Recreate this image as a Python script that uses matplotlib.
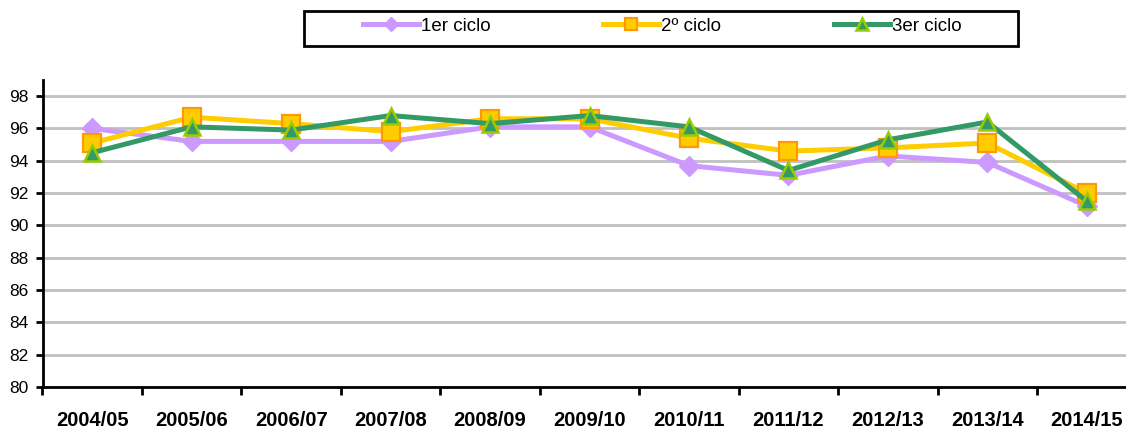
import numpy as np
import matplotlib.pyplot as plt
from matplotlib.patches import Rectangle

plt.rcParams["font.family"] = ["Liberation Sans", "DejaVu Sans"]

cursos = ["2004/05", "2005/06", "2006/07", "2007/08", "2008/09", "2009/10",
          "2010/11", "2011/12", "2012/13", "2013/14", "2014/15"]

ciclo_1 = [96.0, 95.2, 95.2, 95.2, 96.1, 96.1, 93.7, 93.1, 94.3, 93.9, 91.2]
ciclo_2 = [95.1, 96.7, 96.3, 95.8, 96.6, 96.6, 95.4, 94.6, 94.8, 95.1, 92.0]
ciclo_3 = [94.5, 96.1, 95.9, 96.8, 96.3, 96.8, 96.1, 93.4, 95.3, 96.4, 91.5]

y_ticks = [80, 82, 84, 86, 88, 90, 92, 94, 96, 98]

fig = plt.figure(figsize=(11.26, 4.29), dpi=100)
# plot area runs slightly past the right edge, like the original
ax = fig.add_axes([42.5 / 1126, 42 / 429, 1094 / 1126, 307 / 429])

x = np.arange(len(cursos))

ax.plot(x, ciclo_1, color="#CC99FF", linewidth=3.6, marker="D", markersize=10,
        markerfacecolor="#CC99FF", markeredgecolor="#CC99FF", label="1er ciclo", zorder=3)
ax.plot(x, ciclo_2, color="#FFCC00", linewidth=3.6, marker="s", markersize=12.5,
        markerfacecolor="#FFCC00", markeredgecolor="#FF9900", markeredgewidth=1.6,
        label="2º ciclo", zorder=4)
ax.plot(x, ciclo_3, color="#339966", linewidth=3.6, marker="^", markersize=11.5,
        markerfacecolor="#339966", markeredgecolor="#99CC00", markeredgewidth=1.8,
        label="3er ciclo", zorder=5)

ax.set_xlim(-0.5, len(cursos) - 0.5)
ax.set_ylim(80, 99)
ax.set_yticks(y_ticks)
ax.set_yticklabels([str(v) for v in y_ticks], fontsize=12.5)

# ticks between categories, labels at centres
ax.set_xticks(np.arange(-0.5, len(cursos), 1.0))
ax.set_xticklabels([])
ax.set_xticks(x, minor=True)
ax.set_xticklabels(cursos, minor=True, fontsize=14.5, fontweight="bold")
ax.tick_params(axis="x", which="major", length=6, width=2, direction="out")
ax.tick_params(axis="x", which="minor", length=0, pad=17)
ax.tick_params(axis="y", length=5, width=2, direction="out", pad=5)

ax.grid(True, axis="y", color="#C0C0C0", linewidth=2)
ax.set_axisbelow(True)
for side in ["top", "right"]:
    ax.spines[side].set_visible(False)
for side in ["left", "bottom"]:
    ax.spines[side].set_linewidth(2)
ax.spines["bottom"].set_zorder(6)

# legend box
fig.patches.append(Rectangle((304 / 1126, 1 - 46 / 429), 714 / 1126, 35 / 429,
                             transform=fig.transFigure, fill=False,
                             edgecolor="black", linewidth=2))
fig.legend(loc="center", bbox_to_anchor=(662 / 1126, 1 - 26 / 429), ncol=3,
           frameon=False, fontsize=13.5, handlelength=3.0, handletextpad=0.1,
           columnspacing=6.0, markerscale=0.7)

plt.savefig("out.png", dpi=100)
